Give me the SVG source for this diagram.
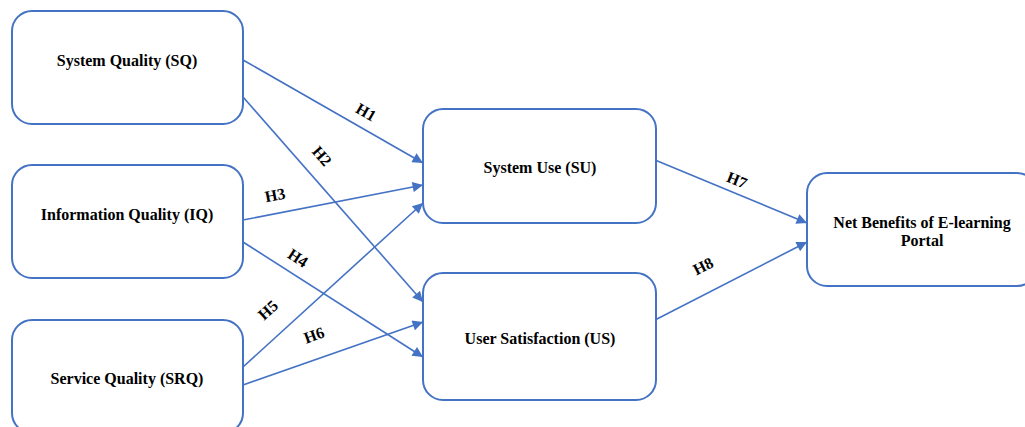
<svg xmlns="http://www.w3.org/2000/svg" width="1025" height="427" viewBox="0 0 1025 427">
<style>
.box{fill:#fff;stroke:#4472C4;stroke-width:2}
.lbl{font-family:"Liberation Serif","Times New Roman",serif;font-weight:bold;font-size:16px;fill:#000;text-anchor:middle;dominant-baseline:central}
.edge{stroke:#4472C4;stroke-width:1.6;fill:none;marker-end:url(#arr)}
.h{font-family:"Liberation Serif","Times New Roman",serif;font-weight:bold;font-size:16px;fill:#000;text-anchor:middle;dominant-baseline:central}
</style>
<defs>
<marker id="arr" viewBox="0 0 10 10" refX="10" refY="5" markerWidth="8" markerHeight="6.5" markerUnits="strokeWidth" orient="auto">
<path d="M0,0 L10,5 L0,10 z" fill="#4472C4"/>
</marker>
</defs>
<rect width="1025" height="427" fill="#fff"/>
<g id="connectors">
<line class="edge" x1="243" y1="60" x2="423" y2="163"/>
<line class="edge" x1="243" y1="97" x2="423" y2="302"/>
<line class="edge" x1="243" y1="220" x2="423" y2="185"/>
<line class="edge" x1="243" y1="242" x2="423" y2="357"/>
<line class="edge" x1="243" y1="367" x2="423" y2="203"/>
<line class="edge" x1="243" y1="385" x2="423" y2="322"/>
<line class="edge" x1="655" y1="160" x2="807" y2="223"/>
<line class="edge" x1="655" y1="320" x2="807" y2="242"/>
<text class="h" transform="translate(366,112) rotate(30)">H1</text>
<text class="h" transform="translate(322,156) rotate(49)">H2</text>
<text class="h" transform="translate(275,195) rotate(-11)">H3</text>
<text class="h" transform="translate(298,258) rotate(33)">H4</text>
<text class="h" transform="translate(268,310) rotate(-42)">H5</text>
<text class="h" transform="translate(314,335) rotate(-20)">H6</text>
<text class="h" transform="translate(737,180) rotate(22)">H7</text>
<text class="h" transform="translate(703,266) rotate(-27)">H8</text>
</g>
<g id="SQ">
<rect class="box" x="12" y="11" width="231" height="113" rx="20"/>
<text class="lbl" x="127" y="60">System Quality (SQ)</text>
</g>
<g id="IQ">
<rect class="box" x="12" y="165" width="231" height="113" rx="20"/>
<text class="lbl" x="127" y="214">Information Quality (IQ)</text>
</g>
<g id="SRQ">
<rect class="box" x="12" y="320" width="231" height="113" rx="20"/>
<text class="lbl" x="127" y="378">Service Quality (SRQ)</text>
</g>
<g id="SU">
<rect class="box" x="423" y="109" width="233" height="114" rx="20"/>
<text class="lbl" x="540" y="167">System Use (SU)</text>
</g>
<g id="US">
<rect class="box" x="423" y="273" width="233" height="127" rx="20"/>
<text class="lbl" x="540" y="338">User Satisfaction (US)</text>
</g>
<g id="NB">
<rect class="box" x="807" y="173" width="230" height="113" rx="20"/>
<text class="lbl" x="922" y="222">Net Benefits of E-learning</text>
<text class="lbl" x="922" y="240">Portal</text>
</g>
</svg>
